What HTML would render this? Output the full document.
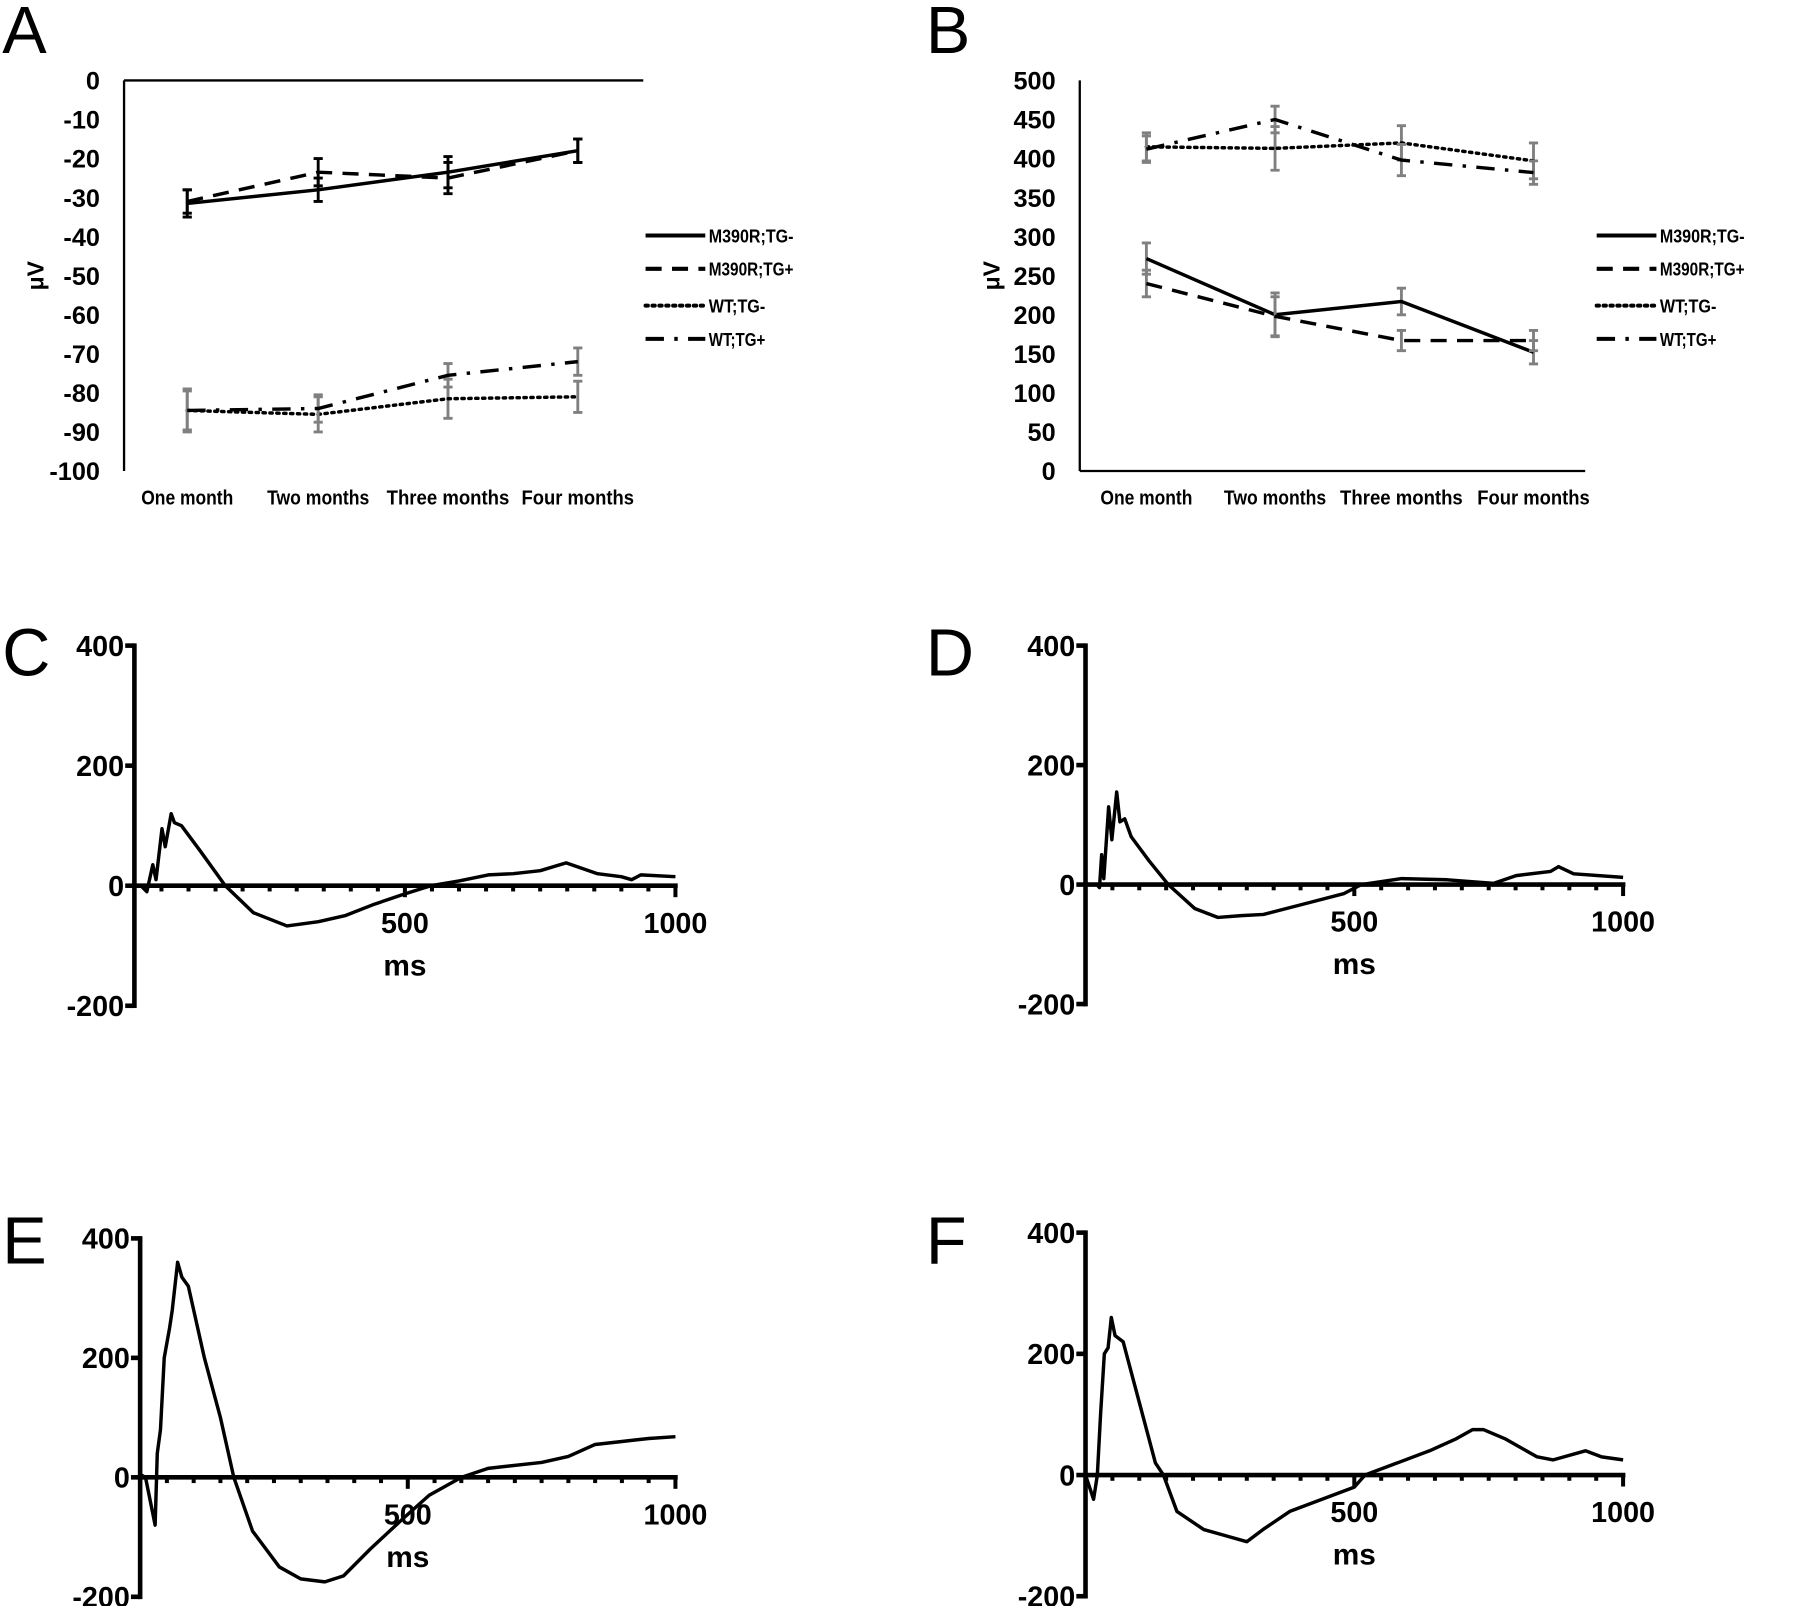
<!DOCTYPE html>
<html><head><meta charset="utf-8"><style>
html,body{margin:0;padding:0;background:#fff;}
svg{display:block;font-family:"Liberation Sans",Arial,sans-serif;}
</style></head><body>
<svg id="fig" width="1800" height="1606" viewBox="0 0 1567 1398" preserveAspectRatio="none" xmlns="http://www.w3.org/2000/svg"></svg>
<script>
// ---- Panel A/B data ----
const categories = ["One month","Two months","Three months","Four months"];
const seriesNames = ["M390R;TG-","M390R;TG+","WT;TG-","WT;TG+"];
const aM390Rneg = [-31.5,-28,-23.5,-18];
const aM390RnegErr = [3.5,3,4,3];
const aM390Rpos = [-31,-23.5,-25,-18];
const aM390RposErr = [3,3.5,4,3];
const aWTneg = [-84.5,-85.5,-81.5,-81];
const aWTnegErr = [5,4.5,5,4];
const aWTpos = [-84.5,-84,-75.5,-72];
const aWTposErr = [5.5,3.5,3,3.5];
const aTicks = [0,-10,-20,-30,-40,-50,-60,-70,-80,-90,-100];
const bM390Rneg = [272,200,217,152];
const bM390RnegErr = [20,28,17,15];
const bM390Rpos = [240,198,167,167];
const bM390RposErr = [17,25,13,13];
const bWTneg = [415,413,420,397];
const bWTnegErr = [18,28,22,23];
const bWTpos = [412,450,398,382];
const bWTposErr = [17,17,20,15];
const bTicks = [500,450,400,350,300,250,200,150,100,50,0];
// ---- Waveforms (t ms, µV) ----
const cT = [0,12,23,34,40,51,57,68,74,87,120,168,220,282,340,389,440,495,548,600,654,700,750,798,856,900,919,936,1000];
const cV = [0,0,-10,35,10,95,65,120,105,100,60,0,-45,-67,-60,-50,-32,-15,0,8,18,20,25,38,20,15,10,18,15];
const dT = [0,21,26,30,34,43,49,58,64,73,85,118,154,203,246,290,331,417,481,513,588,673,759,801,865,880,908,1000];
const dV = [0,0,-5,50,10,130,75,155,105,110,80,40,0,-40,-55,-52,-50,-30,-15,0,10,8,2,15,22,30,18,12];
const eT = [0,10,28,32,38,45,55,60,70,78,90,120,150,175,210,260,300,345,380,430,490,540,600,650,750,800,850,900,950,1000];
const eV = [5,0,-80,40,80,200,250,280,360,335,320,200,100,0,-90,-150,-170,-175,-165,-120,-70,-30,0,15,25,35,55,60,65,68];
const fT = [0,15,22,28,35,42,48,55,70,85,100,130,145,170,220,260,300,330,380,440,500,520,580,640,690,720,740,780,840,870,930,960,1000];
const fV = [0,-40,0,100,200,210,260,230,220,170,120,20,0,-60,-90,-100,-110,-90,-60,-40,-20,0,20,40,60,75,75,60,30,25,40,30,25];
const wTicksY = [400,200,0,-200];
const wTicksX = [500,1000];

const svg = document.getElementById('fig');
const NS = "http://www.w3.org/2000/svg";
function mk(tag, attrs, parent){const e=document.createElementNS(NS,tag);for(const k in attrs)e.setAttribute(k,attrs[k]);(parent||svg).appendChild(e);return e;}
function txt(s, attrs, parent){const e=mk('text',attrs,parent);e.textContent=s;return e;}

const letters=[["A",2,46],["B",806,46],["C",2,588],["D",806,588],["E",2,1100],["F",806,1100]];
letters.forEach(l=>{const t=txt(l[0],{x:l[1],y:l[2],'font-size':58});

});

const styles=[{dash:"",w:3},{dash:"14,9",w:3},{dash:"2,4",w:3},{dash:"16,9,3,9",w:3}];

function linePanel(id,cfg){
  const g=mk('g',{});
  
  
  const X=i=>cfg.cx[i];
  const Y=v=>cfg.y0+(v-cfg.v0)*(cfg.y1-cfg.y0)/(cfg.v1-cfg.v0);
  const ax=mk('line',{x1:cfg.ax,y1:Y(cfg.v0),x2:cfg.ax,y2:Y(cfg.v1),stroke:'#000','stroke-width':2},g);
  
  const hy=Y(cfg.hline);
  const xl=mk('line',{x1:cfg.ax,y1:hy,x2:cfg.axEnd,y2:hy,stroke:'#000','stroke-width':2},g);
  
  cfg.ticks.forEach(v=>{const t=txt(String(v),{x:cfg.ax-21,y:Y(v)+8,'font-size':22,'font-weight':'bold','text-anchor':'end'},g);
    });
  categories.forEach((c,i)=>{const t=txt(c,{x:X(i),y:439,'font-size':18,'font-weight':'bold','text-anchor':'middle'},g);
    t.setAttribute('textLength', c.length*8.9);t.setAttribute('lengthAdjust','spacingAndGlyphs');
    });
  const yl=txt("μV",{x:0,y:0,'font-size':20,'font-weight':'bold','text-anchor':'middle',transform:`translate(${cfg.ax-70},240) rotate(-90)`},g);
  
  cfg.series.forEach((s,si)=>{
    const col=s.errCol;
    s.vals.forEach((v,i)=>{
      const e=s.err[i],x=X(i);
      const eb=mk('path',{d:`M${x},${Y(v-e)}V${Y(v+e)}M${x-4},${Y(v-e)}h8M${x-4},${Y(v+e)}h8`,stroke:col,'stroke-width':2.5,fill:'none'},g);
      
    });
    const p=mk('polyline',{points:s.vals.map((v,i)=>X(i)+','+Y(v)).join(' '),fill:'none',stroke:'#000','stroke-width':styles[si].w,'stroke-dasharray':styles[si].dash,'stroke-linecap':si==2?'round':'butt'},g);
    
  });
  const ly=[205,234,266,295];
  seriesNames.forEach((n,i)=>{
    const l=mk('line',{x1:cfg.lx,y1:ly[i],x2:cfg.lx+52,y2:ly[i],stroke:'#000','stroke-width':3.5,'stroke-dasharray':styles[i].dash,'stroke-linecap':i==2?'round':'butt'},g);
    
    const t=txt(n,{x:cfg.lx+55,y:ly[i]+6,'font-size':16,'font-weight':'bold'},g);
    t.setAttribute('textLength', n.length*8.2);t.setAttribute('lengthAdjust','spacingAndGlyphs');
    
  });
}
linePanel('a',{ax:108,axEnd:560,y0:70,y1:410,v0:0,v1:-100,hline:0,cx:[163,277,390,503],ticks:aTicks,lx:562,
  series:[{vals:aM390Rneg,err:aM390RnegErr,errCol:'#000'},{vals:aM390Rpos,err:aM390RposErr,errCol:'#000'},
          {vals:aWTneg,err:aWTnegErr,errCol:'#808080'},{vals:aWTpos,err:aWTposErr,errCol:'#808080'}]});
linePanel('b',{ax:940,axEnd:1380,y0:410,y1:70,v0:0,v1:500,hline:0,cx:[998,1110,1220,1335],ticks:bTicks,lx:1390,
  series:[{vals:bM390Rneg,err:bM390RnegErr,errCol:'#808080'},{vals:bM390Rpos,err:bM390RposErr,errCol:'#808080'},
          {vals:bWTneg,err:bWTnegErr,errCol:'#808080'},{vals:bWTpos,err:bWTposErr,errCol:'#808080'}]});

function wavePanel(id,cfg,T,V){
  const g=mk('g',{});
  
  
  const X=t=>cfg.x0+t*(cfg.x1-cfg.x0)/1000;
  const Y=v=>cfg.y0-v*(cfg.y0-cfg.y400)/400;
  const ya=mk('line',{x1:cfg.x0,y1:Y(400)-2,x2:cfg.x0,y2:Y(-200)+2,stroke:'#000','stroke-width':4},g);
  
  wTicksY.forEach(v=>{
    mk('line',{x1:cfg.x0-8,y1:Y(v),x2:cfg.x0,y2:Y(v),stroke:'#000','stroke-width':4},g);
    const t=txt(String(v),{x:cfg.x0-9,y:Y(v)+9,'font-size':25,'font-weight':'bold','text-anchor':'end'},g);
    
  });
  const xa=mk('line',{x1:cfg.x0,y1:Y(0),x2:X(1000)+2,y2:Y(0),stroke:'#000','stroke-width':4},g);
  
  for(let t=50;t<1000;t+=50){ if(t===500)continue; mk('line',{x1:X(t),y1:Y(0),x2:X(t),y2:Y(0)+5,stroke:'#000','stroke-width':3.5},g);}
  wTicksX.forEach(t=>{
    mk('line',{x1:X(t),y1:Y(0),x2:X(t),y2:Y(0)+10,stroke:'#000','stroke-width':3.5},g);
    const l=txt(String(t),{x:X(t),y:Y(0)+41,'font-size':25,'font-weight':'bold','text-anchor':'middle'},g);
    
  });
  const ms=txt("ms",{x:X(500),y:Y(0)+78,'font-size':26,'font-weight':'bold','text-anchor':'middle'},g);
  
  const p=mk('polyline',{points:T.map((t,i)=>X(t)+','+Y(V[i])).join(' '),fill:'none',stroke:'#000','stroke-width':3,'stroke-linejoin':'round'},g);
  
}
wavePanel('c',{x0:117,x1:588,y0:771,y400:562},cT,cV);
wavePanel('d',{x0:945,x1:1413,y0:770,y400:562},dT,dV);
wavePanel('e',{x0:122,x1:588,y0:1286,y400:1078},eT,eV);
wavePanel('f',{x0:945,x1:1413,y0:1284,y400:1073},fT,fV);
</script>
</body></html>
